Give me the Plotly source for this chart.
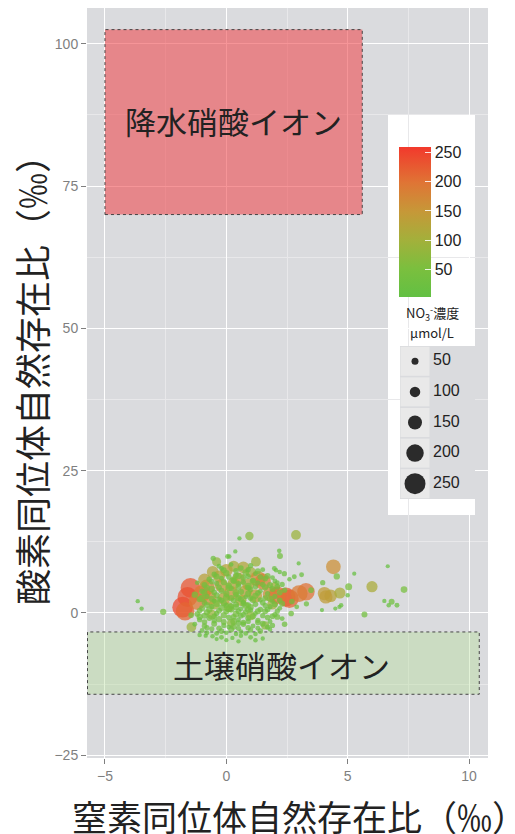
import plotly.graph_objects as go

# ---------------- data ----------------
# large / high-concentration points
big_x = [-1.48, -1.80, -1.60, -1.70, -1.0, -0.8, -0.7, -0.9, -0.56, -0.3, 0.0, 0.3, 0.7, 1.0, 0.5,
         -0.2, 0.2, 0.9, 1.3, 1.5, 1.2, 0.6, -0.5, 1.8, 1.9, 1.22, -0.4, 0.1, 1.0, 1.6, 0.2, -0.6,
         2.0, 2.46, 2.6, 2.1, 3.28, 3.0, 4.04, 4.3, 4.68, 4.1, 4.41, 6.0, -1.44, 0.95, 2.87, 0.3,
         -0.1, 0.8, -1.2]
big_y = [4.4, 1.0, 2.8, 0.3, 3.4, 4.5, 2.6, 5.8, 7.2, 6.4, 7.5, 8.2, 8.0, 7.2, 6.0,
         4.8, 3.5, 5.0, 6.0, 5.5, 3.0, 2.2, 1.5, 3.3, 1.5, 9.0, 9.0, 1.0, -0.5, -2.2, -1.8, -0.3,
         4.5, 2.8, 2.5, 3.1, 3.7, 3.4, 3.4, 3.0, 3.5, 2.8, 8.1, 4.6, -2.5, 13.5, 13.7, 5.2,
         2.5, 3.8, 2.0]
big_conc = [230, 245, 235, 215, 190, 170, 160, 130, 120, 120, 130, 110, 120, 100, 130,
            140, 150, 120, 170, 180, 140, 110, 100, 160, 100, 90, 80, 90, 80, 70, 70, 90,
            100, 220, 215, 200, 200, 190, 140, 130, 110, 140, 160, 110, 90, 70, 90, 120,
            130, 130, 190]

# sparse low-concentration points
sparse_x = [-3.65, -3.49, -2.6, 0.54, 0.12, 0.37, 0.05, -0.54, 2.18, 2.21, 2.98, 4.55, 5.27, 6.65,
            7.32, 6.51, 6.81, 6.69, 7.03, 5.69, 5.04, 5.0, 3.97, 3.49, 3.1, 2.8, 2.39, 1.98, 2.05,
            2.67, 2.1, 2.9, 4.49, 4.66, 4.73, 3.94, 3.3, 2.7, -1.1, -1.45]
sparse_y = [2.06, 0.76, 0.18, 13.1, 9.9, 10.8, 9.9, 9.6, 10.9, 10.0, 8.7, 6.4, 6.9, 8.2,
            4.1, 2.1, 1.94, 1.35, 1.35, -0.3, 4.6, 3.1, 5.3, 4.0, 6.7, 6.35, 6.9, 7.8, 7.5,
            -0.1, -0.7, 1.06, 0.76, 1.06, 1.35, 0.5, 1.6, 2.0, -0.7, -0.4]
sparse_conc = [12, 12, 40, 12, 15, 12, 20, 25, 15, 35, 10, 40, 10, 10,
               45, 12, 35, 15, 20, 35, 50, 15, 25, 30, 20, 20, 25, 20, 15,
               30, 35, 20, 10, 12, 15, 10, 25, 30, 40, 30]

# dense low-concentration cluster (first layer)
cluster_x = [-0.3, 0.2, 0.6, 1.0, 1.5, -0.1,
             -0.5, 0.0, 0.4, 0.8, 1.2, 1.7, 2.2,
             -0.7, -0.2, 0.3, 0.7, 1.1, 1.6, 2.0, 2.6,
             -0.9, -0.4, 0.1, 0.5, 0.9, 1.3, 1.8, 2.3, -1.2,
             -1.0, -0.6, -0.2, 0.2, 0.6, 1.0, 1.4, 1.9, 2.4, -1.3,
             -0.8, -0.4, 0.0, 0.4, 0.8, 1.2, 1.6, 2.0, -1.1,
             -0.9, -0.5, -0.1, 0.3, 0.7, 1.1, 1.5, 1.9, 2.3, -0.3, 0.5, 0.9,
             -1.0, -0.6, -0.2, 0.2, 0.6, 1.0, 1.4, 1.8, 2.2, 0.4, 0.8,
             -1.2, -0.8, -0.4, 0.0, 0.4, 0.8, 1.2, 1.6, 2.0, 0.2, 0.6, 1.0,
             -1.1, -0.7, -0.3, 0.1, 0.5, 0.9, 1.3, 1.7, 2.3, 0.3, 0.7,
             -1.3, -0.9, -0.5, -0.1, 0.3, 0.7, 1.1, 1.5, 1.9, 2.4,
             -1.0, -0.6, -0.2, 0.2, 0.6, 1.0, 1.4, 1.8, -0.4, 0.4,
             -1.1, -0.85, -0.57, -0.2, 0.25, 0.6, 1.0, 1.5, 0.0, 0.5, -0.4, 1.2]
cluster_y = [8.2, 8.5, 7.9, 8.3, 7.6, 7.5,
             6.8, 7.0, 6.6, 7.1, 6.9, 6.5, 7.2,
             5.9, 6.1, 5.8, 6.2, 5.7, 6.0, 5.6, 5.9,
             4.9, 5.2, 4.8, 5.1, 4.7, 5.3, 4.9, 5.0, 5.3,
             3.8, 4.2, 3.9, 4.3, 3.7, 4.1, 3.8, 4.2, 4.0, 3.2,
             2.9, 3.1, 2.7, 3.2, 2.8, 3.0, 2.6, 2.9, 2.4,
             1.8, 2.1, 1.7, 2.2, 1.9, 2.3, 1.8, 2.0, 1.6, 2.4, 2.6, 1.4,
             0.8, 1.1, 0.9, 1.2, 0.7, 1.0, 0.6, 1.1, 0.8, 1.5, 1.3,
             -0.2, 0.1, -0.1, 0.3, -0.2, 0.2, -0.1, 0.3, -0.3, 0.6, -0.5, 0.5,
             -1.2, -0.9, -1.1, -0.8, -1.2, -0.9, -1.3, -0.8, -1.0, -1.5, -1.7,
             -2.0, -2.3, -1.9, -2.2, -2.4, -2.0, -2.3, -1.9, -2.2, -2.0,
             -3.1, -2.8, -3.2, -2.9, -3.3, -3.0, -3.2, -2.9, -3.6, -3.7,
             -3.9, -4.0, -4.1, -4.3, -4.4, -4.0, -4.3, -4.5, -4.8, -5.0, -4.6, -4.8]
cluster_conc = [20, 15, 30, 25, 20, 35,
                25, 40, 30, 45, 20, 35, 15,
                30, 20, 45, 35, 25, 30, 20, 15,
                35, 25, 40, 30, 50, 20, 35, 25, 15,
                30, 45, 35, 25, 40, 30, 20, 35, 25, 40,
                25, 35, 45, 30, 20, 40, 30, 25, 35,
                30, 20, 40, 35, 25, 45, 30, 20, 35, 25, 40, 30,
                35, 25, 45, 30, 20, 40, 30, 25, 20, 35, 50,
                30, 40, 25, 35, 45, 30, 20, 35, 25, 40, 30, 25,
                25, 35, 40, 30, 20, 35, 25, 30, 20, 45, 30,
                20, 30, 35, 25, 40, 30, 20, 35, 25, 30,
                20, 25, 30, 35, 20, 25, 30, 15, 20, 15,
                15, 12, 15, 20, 12, 15, 20, 12, 10, 12, 10, 15]

# dense low-concentration cluster (second layer, between the first)
cluster2_x = [0.4, 0.9, 1.3, -0.2,
              -0.4, 0.1, 0.5, 0.9, 1.4, 1.9,
              -0.6, -0.1, 0.3, 0.7, 1.1, 1.5, 2.1,
              -0.8, -0.3, 0.1, 0.5, 0.9, 1.2, 1.6, 2.1,
              -0.9, -0.5, 0.0, 0.4, 0.9, 1.3, 1.7, 2.2,
              -1.0, -0.6, -0.2, 0.2, 0.6, 1.0, 1.4, 1.8, 2.2,
              -0.8, -0.4, 0.0, 0.4, 0.7, 1.2, 1.6, 2.0,
              -1.1, -0.7, -0.3, 0.1, 0.5, 0.9, 1.3, 1.7, 2.1,
              -0.9, -0.5, -0.1, 0.3, 0.7, 1.1, 1.5, 1.9,
              -0.9, -0.5, -0.1, 0.5, 0.9, 1.3, 1.8,
              -0.8, -0.3, 0.1, 0.5, 0.9, 1.3, 1.7,
              -0.8, 0.0, 0.8, 1.2]
cluster2_y = [7.4, 7.6, 7.3, 7.8,
              6.4, 6.3, 6.5, 6.4, 6.3, 6.2,
              5.5, 5.4, 5.6, 5.4, 5.5, 5.0, 5.3,
              4.4, 4.5, 4.4, 4.6, 4.4, 4.6, 4.5, 4.6,
              3.5, 3.6, 3.4, 3.6, 3.4, 3.5, 3.4, 3.6,
              2.6, 2.5, 2.2, 2.6, 2.4, 2.6, 2.3, 2.5, 2.2,
              1.4, 1.6, 1.3, 1.0, 1.6, 1.5, 1.3, 1.5,
              0.4, 0.6, 0.4, 0.7, 0.3, 0.6, 0.3, 0.6, 0.3,
              -0.5, -0.6, -0.4, -0.7, -0.3, -0.6, -0.5, -0.6,
              -1.6, -1.4, -1.6, -1.8, -1.5, -1.7, -1.5,
              -2.6, -2.7, -2.5, -2.7, -2.6, -2.7, -2.5,
              -3.5, -3.5, -3.6, -3.7]
cluster2_conc = [30, 25, 35, 20,
                 35, 30, 40, 25, 30, 20,
                 30, 40, 35, 25, 45, 30, 20,
                 40, 30, 45, 35, 30, 25, 40, 30,
                 35, 30, 40, 50, 35, 30, 25, 35,
                 45, 35, 30, 40, 35, 30, 25, 40, 30,
                 35, 45, 30, 40, 35, 30, 25, 35,
                 30, 40, 35, 45, 30, 40, 35, 30, 25,
                 35, 30, 40, 35, 30, 40, 25, 30,
                 30, 25, 35, 30, 25, 30, 20,
                 25, 30, 20, 25, 30, 20, 25,
                 20, 15, 20, 15]

x_vals = big_x + sparse_x + cluster_x + cluster2_x
y_vals = big_y + sparse_y + cluster_y + cluster2_y
conc_vals = big_conc + sparse_conc + cluster_conc + cluster2_conc

size_legend_vals = [50, 100, 150, 200, 250]
colorbar_ticks = [50, 100, 150, 200, 250]
x_ticks = [-5, 0, 5, 10]
y_ticks = [-25, 0, 25, 50, 75, 100]

rain_box = dict(x0=-5.0, x1=5.6, y0=70.0, y1=102.5, label="降水硝酸イオン")
soil_box = dict(x0=-5.72, x1=10.42, y0=-14.3, y1=-3.35, label="土壌硝酸イオン")

# ---------------- styling ----------------
X_RANGE = [-5.74, 10.78]
Y_RANGE = [-25.5, 106.3]
C_MIN, C_MAX = 2, 260
colorscale = [[0.0, '#62c043'], [0.19, '#7bbf3e'], [0.38, '#a3b03b'],
              [0.57, '#c69838'], [0.76, '#df7535'], [1.0, '#f2392c']]
CJK = "Noto Sans CJK JP"
LAT = "Liberation Sans"

# the page body adds an 8px offset; target screen pixel p -> figure pixel p - OFF
OFF = 8
W, H = 515, 834
PL, PR, PT, PB = 87 - OFF, 488 - OFF, 8 - OFF, 758 - OFF
def px_x(p): return (p - OFF - PL) / (PR - PL)
def px_y(p): return (PB - (p - OFF)) / (PB - PT)

def dia(v):
    return 3.5 + 0.07 * v

fig = go.Figure()

fig.add_trace(go.Scatter(
    x=x_vals, y=y_vals, mode='markers', showlegend=False, hoverinfo='skip',
    marker=dict(size=[dia(v) for v in conc_vals], color=conc_vals,
                colorscale=colorscale, cmin=C_MIN, cmax=C_MAX, opacity=0.74,
                line=dict(width=0), showscale=True,
                colorbar=dict(x=px_x(399), xanchor='left', y=px_y(222), yanchor='middle',
                              len=150, lenmode='pixels', thickness=32, thicknessmode='pixels',
                              outlinewidth=0, tickvals=colorbar_ticks, ticks='inside',
                              ticklen=6, tickcolor='rgba(255,255,255,0.85)',
                              tickfont=dict(family=LAT, size=16, color='#222'),
                              xpad=0, ypad=0, bgcolor='rgba(0,0,0,0)'))))

# size legend (own small axes inside the legend box)
leg_pos = [4, 3, 2, 1, 0]
fig.add_trace(go.Scatter(x=[15] * 5, y=leg_pos, mode='markers', xaxis='x2', yaxis='y2',
                         showlegend=False, hoverinfo='skip',
                         marker=dict(symbol='square', size=29, color='#e9e9e9', line=dict(width=0))))
fig.add_trace(go.Scatter(x=[15] * 5, y=leg_pos, mode='markers', xaxis='x2', yaxis='y2',
                         showlegend=False, hoverinfo='skip',
                         marker=dict(size=[dia(v) for v in size_legend_vals], color='#2b2b2b',
                                     opacity=1, line=dict(width=0))))
fig.add_trace(go.Scatter(x=[33] * 5, y=leg_pos, mode='text', xaxis='x2', yaxis='y2',
                         showlegend=False, hoverinfo='skip',
                         text=[str(v) for v in size_legend_vals], textposition='middle right',
                         textfont=dict(family=LAT, size=16, color='#222')))

shapes = [
    dict(type='rect', xref='paper', yref='paper', x0=px_x(388), x1=px_x(475),
         y0=px_y(515), y1=px_y(114), fillcolor='white', line=dict(width=0), layer='between'),
    dict(type='rect', xref='x', yref='y', x0=rain_box['x0'], x1=rain_box['x1'],
         y0=rain_box['y0'], y1=rain_box['y1'], fillcolor='rgba(240,72,78,0.58)',
         line=dict(color='#444', width=1, dash='dot'), layer='between'),
    dict(type='rect', xref='x', yref='y', x0=soil_box['x0'], x1=soil_box['x1'],
         y0=soil_box['y0'], y1=soil_box['y1'], fillcolor='rgba(180,220,150,0.38)',
         line=dict(color='#444', width=1, dash='dot'), layer='between'),
]

def ann(x, y, text, size, xref='paper', yref='paper', **kw):
    return dict(x=x, y=y, xref=xref, yref=yref, text=text, showarrow=False,
                xanchor='center', yanchor='middle',
                font=dict(family=CJK, size=size, color='#222'), **kw)

annotations = [
    ann((rain_box['x0'] + rain_box['x1']) / 2, 86.6, rain_box['label'], 31, 'x', 'y'),
    ann(2.27, -9.0, soil_box['label'], 31, 'x', 'y'),
    ann(px_x(432), px_y(313), 'NO<sub>3</sub><sup>-</sup>濃度', 13),
    ann(px_x(432), px_y(332), 'μmol/L', 13),
    ann(px_x(299), px_y(815), '窒素同位体自然存在比（‰）', 35),
    ann(px_x(31), px_y(371), '酸素同位体自然存在比（‰）', 36, textangle=-90),
]

fig.update_layout(
    width=W, height=H,
    margin=dict(l=PL, r=W - PR, t=PT, b=H - PB),
    paper_bgcolor='white', plot_bgcolor='#dadbde',
    shapes=shapes, annotations=annotations,
    xaxis=dict(range=X_RANGE, tickvals=x_ticks, ticks='outside', ticklen=5, tickcolor='#7f7f7f',
               tickfont=dict(family=LAT, size=14, color='#7f7f7f'),
               showgrid=True, gridcolor='white', gridwidth=1.3, zeroline=False, showline=False,
               minor=dict(tickvals=[-2.5, 2.5, 7.5], showgrid=True, gridcolor='#e8e8ea',
                          gridwidth=0.7, ticks='')),
    yaxis=dict(range=Y_RANGE, tickvals=y_ticks, ticks='outside', ticklen=5, tickcolor='#7f7f7f',
               tickfont=dict(family=LAT, size=14, color='#7f7f7f'),
               showgrid=True, gridcolor='white', gridwidth=1.3, zeroline=False, showline=False,
               minor=dict(tickvals=[-12.5, 12.5, 37.5, 62.5, 87.5], showgrid=True,
                          gridcolor='#e8e8ea', gridwidth=0.7, ticks='')),
    xaxis2=dict(domain=[px_x(400), px_x(475)], range=[0, 75], visible=False, anchor='y2',
                fixedrange=True),
    yaxis2=dict(domain=[px_y(499), px_y(346)], range=[-0.5, 4.5], visible=False, anchor='x2',
                fixedrange=True),
)

fig.write_html("out.html")
